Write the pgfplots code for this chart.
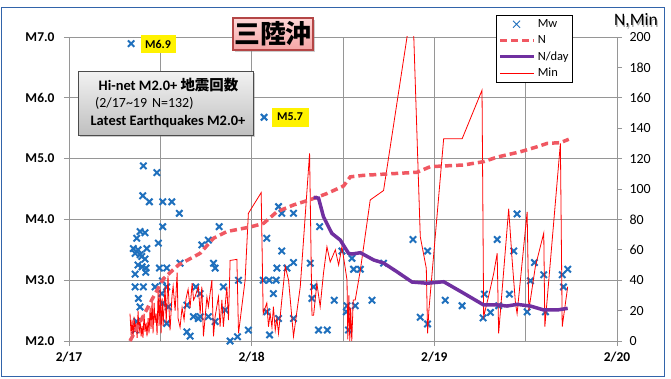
\documentclass[border=0pt]{standalone}
\usepackage{fontspec}
\setmainfont{Carlito}
\newfontfamily\cjk{Noto Sans CJK JP}
\usepackage{pgfplots}
\pgfplotsset{compat=1.18}
\usetikzlibrary{shadows}
\definecolor{mwc}{RGB}{31,112,189}
\definecolor{nc}{RGB}{240,88,98}
\definecolor{ndc}{RGB}{112,48,160}
\definecolor{minc}{RGB}{255,0,0}
\definecolor{gridc}{RGB}{150,150,150}
\definecolor{framec}{RGB}{50,100,170}
\definecolor{pinkA}{RGB}{255,215,215}
\definecolor{pinkB}{RGB}{245,165,165}
\definecolor{pinkD}{RGB}{180,70,70}
\begin{document}
\begin{tikzpicture}[x=1bp,y=1bp]
\path[use as bounding box] (0,0) rectangle (671,378);
\draw[framec, line width=1bp] (1.5,2) rectangle (664,370);

\begin{axis}[at={(69bp,37bp)}, anchor=south west, scale only axis,
  width=548bp, height=304bp,
  xmin=0, xmax=3, ymin=2, ymax=7,
  xtick={0,1,2,3}, xticklabels={2/17,2/18,2/19,2/20},
  minor xtick={0.5,1.5,2.5}, minor tick length=0pt,
  ytick={2,3,4,5,6,7},
  xmajorgrids, xminorgrids, ymajorgrids,
  grid style={gridc, line width=0.8bp},
  minor grid style={gridc, line width=0.8bp},
  axis line style={gridc, line width=0.8bp},
  tick style={gridc, line width=0.8bp},
  major tick length=5bp, tick align=outside,
  xtick pos=lower, ytick pos=left,
  /pgf/number format/assume math mode=true,
  /pgf/number format/fixed, /pgf/number format/fixed zerofill, /pgf/number format/precision=1,
  yticklabel={M\pgfmathprintnumber{\tick}},
  tick label style={font=\bfseries\fontsize{13.5}{15}\selectfont, text=black},
  xticklabel style={yshift=-3bp},
  yticklabel style={xshift=-6bp},
]
\addplot[only marks, mark=x, mark size=4.5bp, mwc, line width=2bp] coordinates {
(0.340,6.89)(1.068,5.68)(0.407,4.88)(0.481,4.77)(0.404,4.39)(0.440,4.29)(0.513,4.29)(0.563,4.29)
(0.604,4.10)(0.513,3.88)(0.389,3.80)(0.416,3.78)(0.371,3.69)(0.489,3.61)(0.352,3.52)(0.426,3.52)
(0.378,3.50)(0.389,3.42)(0.416,3.35)(0.378,3.25)(0.400,3.22)(0.422,3.20)(0.495,3.20)(0.535,3.20)
(0.608,3.28)(0.362,3.10)(0.407,2.89)(0.471,2.89)(0.535,2.89)(0.511,2.99)(0.380,2.70)(0.508,2.78)
(0.513,2.62)(0.544,2.56)(0.645,2.59)(0.535,2.29)(0.371,2.32)(0.362,2.18)(0.645,2.15)(0.694,2.89)
(0.718,2.78)(0.681,2.40)(0.718,2.40)(0.763,2.40)(0.800,2.32)(0.727,3.58)(0.763,3.66)(0.822,3.88)
(0.791,3.28)(0.800,3.20)(0.845,2.89)(0.855,2.51)(0.928,3.00)(0.882,2.00)(0.922,2.07)(0.982,2.18)
(0.663,2.08)(1.083,3.69)(1.147,4.21)(1.165,4.10)(1.229,4.10)(1.165,3.48)(1.138,3.20)(1.193,3.20)
(1.229,3.29)(1.063,3.00)(1.096,3.00)(1.134,3.00)(1.119,2.78)(1.083,2.48)(1.147,2.37)(1.229,2.37)
(1.098,2.10)(1.321,3.28)(1.339,2.89)(1.330,2.70)(1.372,3.88)(1.366,2.18)(1.414,2.18)(1.452,2.67)
(1.494,3.48)(1.518,2.48)(1.549,3.36)(1.558,3.18)(1.595,3.18)(1.722,3.28)(1.883,3.67)(1.963,3.48)
(1.522,2.58)(1.567,2.58)(1.659,2.67)(1.530,2.18)(1.923,2.39)(1.963,2.28)(2.060,2.67)(2.152,2.58)
(2.274,2.77)(2.267,2.38)(2.307,2.47)(2.344,3.67)(2.352,2.58)(2.411,2.77)(2.435,3.48)(2.453,4.09)
(2.508,2.48)(2.526,2.99)(2.548,3.29)(2.599,3.09)(2.608,2.48)(2.700,3.09)(2.707,2.89)(2.730,3.18)
(0.362,3.44)(0.398,3.39)(0.420,3.13)(0.362,2.89)(0.389,2.56)(0.708,2.37)
};
\end{axis}

\begin{axis}[at={(69bp,37bp)}, anchor=south west, scale only axis,
  width=548bp, height=304bp,
  xmin=0, xmax=3, ymin=0, ymax=200,
  axis x line=none, axis y line*=right,
  ytick={0,20,...,200},
  axis line style={gridc, line width=0.8bp},
  tick style={gridc, line width=0.8bp},
  major tick length=5bp, tick align=outside,
  /pgf/number format/assume math mode=true,
  yticklabel style={font=\fontsize{14}{16}\selectfont, text=black, xshift=4bp},
  legend style={at={(0.779,1.072)}, anchor=north west, draw=black, line width=0.8bp,
    font=\fontsize{12.5}{14}\selectfont, inner xsep=2bp, inner ysep=2bp, row sep=2.6bp,
    cells={anchor=west}},
  legend image code/.code={\draw[#1] (0bp,0bp) -- (34bp,0bp);},
  legend entries={Mw,N,N/day,Min},
]
\addlegendimage{legend image code/.code={\draw[mwc, line width=0.9bp] (13bp,-3.5bp)--(20bp,3.5bp) (13bp,3.5bp)--(20bp,-3.5bp);}}
\addlegendimage{nc, line width=3.5bp, dash pattern=on 7bp off 4bp}
\addlegendimage{ndc, line width=3.5bp}
\addlegendimage{minc, line width=0.8bp}
% Min
\addplot[forget plot, minc, line width=0.8bp] coordinates {
(0.334,18)(0.340,4)(0.345,14)(0.351,2)(0.356,16)(0.362,6)(0.367,12)(0.373,2)(0.378,20)(0.384,5)
(0.389,14)(0.395,3)(0.400,10)(0.405,2)(0.411,18)(0.416,6)(0.422,12)(0.427,3)(0.433,15)(0.438,5)
(0.444,22)(0.449,8)(0.455,27)(0.460,5)(0.466,25)(0.471,12)(0.477,18)(0.482,4)(0.488,33)(0.493,10)
(0.499,34)(0.504,5)(0.510,28)(0.515,10)(0.526,36)(0.532,12)(0.542,43)(0.548,20)(0.553,7)(0.564,30)
(0.570,36)(0.581,20)(0.592,45)(0.597,15)(0.608,9)(0.619,22)(0.630,14)(0.641,28)(0.652,34)(0.663,22)
(0.674,38)(0.682,27)(0.690,29)(0.708,35.7)(0.718,18)(0.727,35.7)(0.736,3)(0.755,29)(0.763,22.6)
(0.782,40)(0.791,3)(0.800,16)(0.818,29)(0.827,9.4)(0.837,27)(0.845,9.4)(0.864,35.7)(0.873,13.8)
(0.882,53)(0.919,53.7)(0.928,5)(0.946,22.6)(0.964,40)(0.982,84)(1.052,97.6)(1.063,18)(1.083,25)
(1.092,9.4)(1.101,18)(1.111,9)(1.119,22.6)(1.129,7)(1.138,15)(1.147,5)(1.165,27)(1.184,49)
(1.202,40)(1.229,3)(1.266,35.7)(1.317,123.5)(1.330,17)(1.339,17)(1.357,38)(1.375,22.6)(1.393,44.5)
(1.412,62)(1.430,52)(1.458,60)(1.476,50)(1.494,62)(1.507,52)(1.522,40)(1.526,1)(1.532,30)(1.537,0)
(1.542,22)(1.548,0)(1.556,27)(1.567,27)(1.595,46.7)(1.649,92.8)(1.722,99)(1.881,224)(1.923,68.6)
(1.956,47.8)(1.963,5)(1.970,20)(2.051,133)(2.152,133)(2.261,165)(2.270,16)(2.298,30)(2.325,44.5)
(2.344,57.7)(2.352,5)(2.407,87)(2.426,53)(2.444,25)(2.453,18)(2.508,85)(2.517,20)(2.553,49)
(2.599,71)(2.605,9.4)(2.690,130)(2.700,9.4)(2.730,35.7)
};
% N
\addplot[forget plot, nc, line width=3.5bp, dash pattern=on 7bp off 4bp] coordinates {
(0.334,0)(0.462,29)(0.517,41)(0.599,50)(0.718,57.7)(0.791,67.6)(0.864,72)(0.992,75)(1.065,77.4)
(1.138,85)(1.229,89.5)(1.321,93)(1.412,97)(1.503,102)(1.540,108)(1.613,109)(1.759,110)(1.905,111)
(1.978,114.7)(2.161,115.8)(2.270,118)(2.344,121)(2.471,124.5)(2.563,127.8)(2.618,130)(2.690,130.5)
(2.736,132.7)
};
% N/day
\addplot[forget plot, ndc, line width=3.5bp] coordinates {
(1.339,94.5)(1.366,94)(1.393,81.8)(1.439,70.8)(1.485,66.4)(1.530,57.7)(1.549,57.2)(1.595,58.1)
(1.668,53.3)(1.722,51.3)(1.796,45.5)(1.878,38.8)(1.960,38)(2.051,39)(2.161,31.4)(2.270,23.7)
(2.344,23.7)(2.398,23)(2.453,24.1)(2.526,23)(2.599,20.4)(2.672,20.4)(2.730,21.5)
};
\end{axis}

% title box
\node[draw=pinkD, line width=1.2bp, top color=pinkA, bottom color=pinkB,
  drop shadow={shadow xshift=2bp, shadow yshift=-2bp, opacity=0.4},
  minimum width=80bp, minimum height=32bp, inner sep=0pt,
  font=\cjk\bfseries\fontsize{26}{28}\selectfont] at (273,344) {三陸沖};

% info box
\draw[draw=black!70, line width=0.8bp, top color=black!5, bottom color=black!25,
  drop shadow={shadow xshift=2bp, shadow yshift=-2bp, opacity=0.4}]
  (78,243) rectangle (253,307);
\node[font=\bfseries\fontsize{14.5}{16}\selectfont, inner sep=0pt] at (168.5,293)
  {Hi-net M2.0+ {\cjk 地震回数}};
\node[font=\fontsize{14}{16}\selectfont, inner sep=0pt, anchor=west] at (95,275)
  {(2/17\textasciitilde19\hspace{5bp}N=132)};
\node[font=\bfseries\fontsize{14.5}{16}\selectfont, inner sep=0pt] at (168,256)
  {Latest Earthquakes M2.0+};

% magnitude labels
\node[fill=yellow, minimum width=35bp, minimum height=17bp, inner sep=0pt,
  font=\bfseries\fontsize{12}{13}\selectfont] at (158,334) {M6.9};
\node[fill=yellow, minimum width=37bp, minimum height=19bp, inner sep=0pt,
  font=\bfseries\fontsize{12}{13}\selectfont] at (290,261) {M5.7};

% right axis title
\node[font=\fontsize{17.5}{19}\selectfont, text=black!35, inner sep=0pt] at (637,355.5) {N,Min};
\node[font=\fontsize{17.5}{19}\selectfont, inner sep=0pt] at (636,357) {N,Min};
\end{tikzpicture}
\end{document}
